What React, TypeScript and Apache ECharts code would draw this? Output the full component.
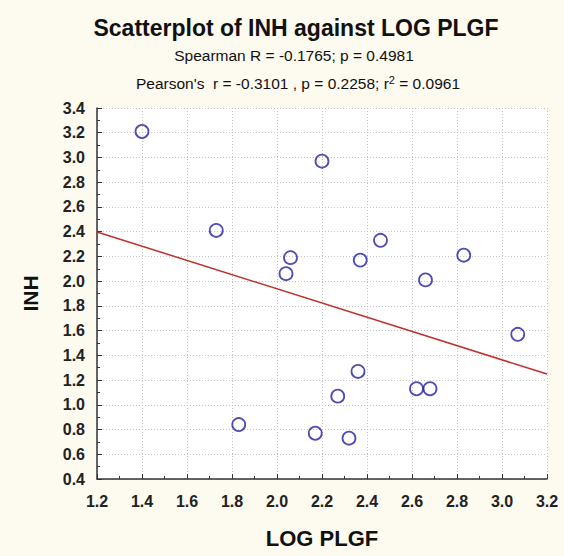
import React, { useEffect, useRef } from "react";
import * as echarts from "echarts";

const logPlgf = [1.40, 1.73, 2.06, 2.04, 2.20, 2.46, 2.37, 2.66, 2.83, 3.07, 2.36, 2.27, 2.62, 2.68, 2.17, 2.32, 1.83];
const inh = [3.21, 2.41, 2.19, 2.06, 2.97, 2.33, 2.17, 2.01, 2.21, 1.57, 1.27, 1.07, 1.13, 1.13, 0.77, 0.73, 0.84];
const fitIntercept = 3.087;
const fitSlope = -0.5745;
const xRange = [1.2, 3.2];
const yRange = [0.4, 3.4];

export default function App() {
  const ref = useRef<HTMLDivElement>(null);
  useEffect(() => {
    if (!ref.current) return;
    const chart = echarts.init(ref.current, undefined, { renderer: "svg" });
    const pts = logPlgf.map((x, i) => [x, inh[i]]);
    const fit = xRange.map((x) => [x, fitIntercept + fitSlope * x]);
    const font = "'Liberation Sans', Arial, sans-serif";
    chart.setOption({
      animation: false,
      backgroundColor: "#fdfaf0",
      textStyle: { fontFamily: font },
      title: [
        {
          text: "Scatterplot of INH against LOG PLGF",
          left: 291,
          top: 11,
          textAlign: "center",
          textStyle: { fontSize: 23, fontWeight: "bold", color: "#111", fontFamily: font },
        },
        {
          text: "Spearman R = -0.1765; p = 0.4981",
          left: 289,
          top: 42,
          textAlign: "center",
          textStyle: { fontSize: 15.5, fontWeight: "normal", color: "#111", fontFamily: font },
        },
        {
          text: "Pearson's  r = -0.3101 , p = 0.2258; r{s|2} = 0.0961",
          left: 293,
          top: 69,
          textAlign: "center",
          textStyle: {
            fontSize: 15.5,
            fontWeight: "normal",
            color: "#111",
            fontFamily: font,
            rich: { s: { fontSize: 11, verticalAlign: "top", padding: [0, 0, 7, 0], color: "#111", fontFamily: font } },
          },
        },
      ],
      grid: { left: 97, right: 17, top: 108, bottom: 77, show: true, backgroundColor: "#ffffff", borderWidth: 0 },
      xAxis: {
        type: "value",
        min: xRange[0],
        max: xRange[1],
        interval: 0.2,
        name: "LOG PLGF",
        nameLocation: "middle",
        nameGap: 48,
        nameTextStyle: { fontSize: 22, fontWeight: "bold", color: "#111", fontFamily: font },
        axisLine: { show: true, lineStyle: { color: "#333", width: 1.5 } },
        axisTick: { show: true, inside: true, length: 5, lineStyle: { color: "#333" } },
        minorTick: { show: true, splitNumber: 2, length: 3, lineStyle: { color: "#333" } },
        axisLabel: {
          formatter: (v: number) => v.toFixed(1),
          fontSize: 16,
          fontWeight: "bold",
          color: "#222",
          margin: 14,
          fontFamily: font,
        },
        splitLine: { show: true, lineStyle: { color: "#c4c4c4", type: [1, 2] } },
      },
      yAxis: {
        type: "value",
        min: yRange[0],
        max: yRange[1],
        interval: 0.2,
        name: "INH",
        nameLocation: "middle",
        nameGap: 56,
        nameRotate: 90,
        nameTextStyle: { fontSize: 21, fontWeight: "bold", color: "#111", fontFamily: font },
        axisLine: { show: true, lineStyle: { color: "#333", width: 1.5 } },
        axisTick: { show: true, inside: true, length: 5, lineStyle: { color: "#333" } },
        minorTick: { show: true, splitNumber: 2, length: 3, lineStyle: { color: "#333" } },
        axisLabel: {
          formatter: (v: number) => v.toFixed(1),
          fontSize: 16,
          fontWeight: "bold",
          color: "#222",
          margin: 12,
          fontFamily: font,
        },
        splitLine: { show: true, lineStyle: { color: "#c4c4c4", type: [1, 2] } },
      },
      series: [
        {
          type: "line",
          data: fit,
          symbol: "none",
          lineStyle: { color: "#c0302a", width: 1.5 },
          z: 2,
        },
        {
          type: "scatter",
          data: pts,
          symbol: "circle",
          symbolSize: 13,
          itemStyle: { color: "rgba(0,0,0,0)", borderColor: "#2020a0", borderWidth: 1.8 },
          z: 3,
        },
      ],
    });
    return () => chart.dispose();
  }, []);
  return <div ref={ref} style={{ width: 564, height: 556, position: "absolute", left: 0, top: 0 }} />;
}
